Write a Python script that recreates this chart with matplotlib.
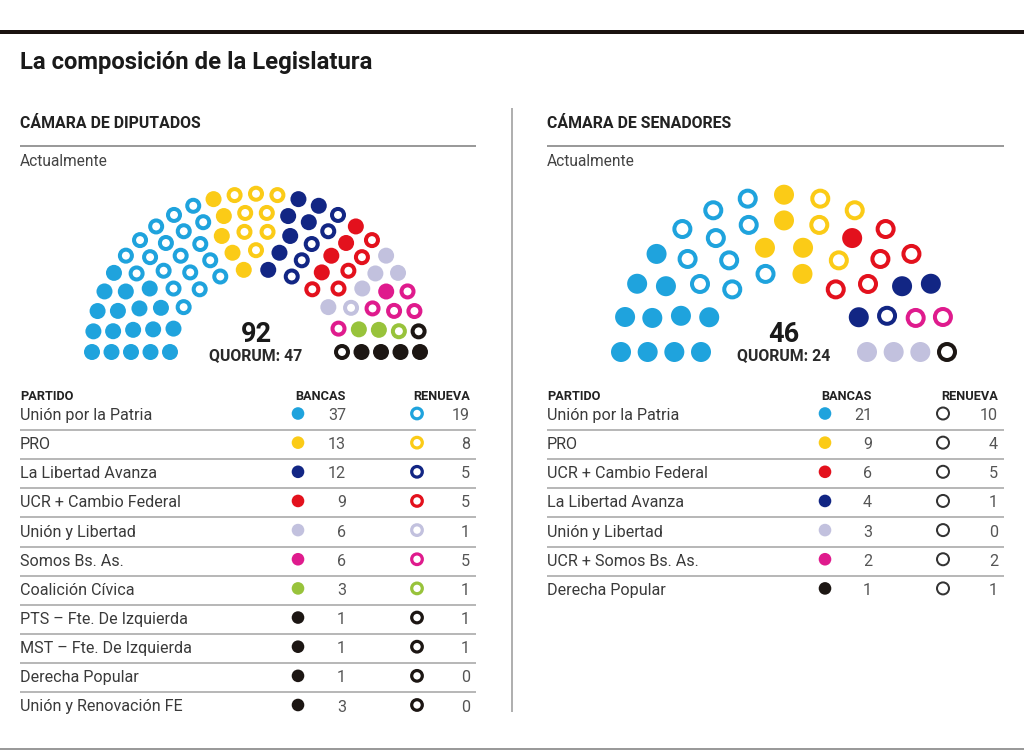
import numpy as np
import matplotlib.pyplot as plt
from matplotlib.patches import Circle

plt.rcParams['font.family'] = ['Roboto', 'DejaVu Sans']

# ---- data ----
dip_partidos = ['Unión por la Patria', 'PRO', 'La Libertad Avanza', 'UCR + Cambio Federal',
                'Unión y Libertad', 'Somos Bs. As.', 'Coalición Cívica',
                'PTS – Fte. De Izquierda', 'MST – Fte. De Izquierda', 'Derecha Popular',
                'Unión y Renovación FE']
dip_bancas = [37, 13, 12, 9, 6, 6, 3, 1, 1, 1, 3]
dip_renueva = [19, 8, 5, 5, 1, 5, 1, 1, 1, 0, 0]
dip_colores = ['#1fa3dd', '#fbcb17', '#122684', '#e3111d', '#c2c1de', '#df1b8d',
               '#98c33b', '#1c1613', '#1c1613', '#1c1613', '#1c1613']
dip_orden = [0, 1, 2, 3, 4, 5, 6, 7, 8, 9, 10]

sen_partidos = ['Unión por la Patria', 'PRO', 'UCR + Cambio Federal', 'La Libertad Avanza',
                'Unión y Libertad', 'UCR + Somos Bs. As.', 'Derecha Popular']
sen_bancas = [21, 9, 6, 4, 3, 2, 1]
sen_renueva = [10, 4, 5, 1, 0, 2, 1]
sen_colores = ['#1fa3dd', '#fbcb17', '#e3111d', '#122684', '#c2c1de', '#df1b8d', '#1c1613']
sen_orden = [0, 1, 2, 3, 5, 4, 6]

# seats per row of each hemicycle (inner -> outer)
dip_filas = [12, 15, 18, 22, 25]
sen_filas = [8, 10, 13, 15]

TXT = '#3a3a3a'
GRIS = '#b8b8b8'
PX = 0.72  # points per pixel at dpi 100
FS = 11.6  # table text size

fig = plt.figure(figsize=(10.24, 7.51), dpi=100)
ax = fig.add_axes([0, 0, 1, 1])
ax.set_xlim(0, 1024)
ax.set_ylim(751, 0)
ax.axis('off')


def asientos(cx, cy, r_in, r_out, filas, ysq=0.965):
    radios = np.linspace(r_in, r_out, len(filas))
    pts = []
    for i, (r, n) in enumerate(zip(radios, filas)):
        for j in range(n):
            th = np.pi * (1 - j / (n - 1))
            pts.append((round(th, 6), i, cx + r * np.cos(th), cy - r * np.sin(th) * ysq))
    pts.sort(key=lambda p: (-p[0], p[1]))
    return [(p[2], p[3]) for p in pts]


def hemiciclo(cx, cy, r_in, r_out, filas, R, bancas, renueva, colores, orden):
    pos = asientos(cx, cy, r_in, r_out, filas)
    marcas = []
    for k in orden:
        marcas += [(colores[k], True)] * (bancas[k] - renueva[k])
        marcas += [(colores[k], False)] * renueva[k]
    for (x, y), (c, lleno) in zip(pos, marcas):
        if lleno:
            ax.add_patch(Circle((x, y), R, facecolor=c, edgecolor='none'))
        else:
            ax.add_patch(Circle((x, y), R - 2, facecolor='white', edgecolor=c, lw=4 * PX))
    total = sum(bancas)
    ax.text(cx, cy - 10.5, str(total), ha='center', va='baseline', fontsize=19.5,
            fontweight='bold', color='#1a1a1a')
    ax.text(cx, cy + 8, f'QUORUM: {total // 2 + 1}', ha='center', va='baseline',
            fontsize=11.4, fontweight='bold', color='#2a2a2a')


def tabla(x0, x1, cols, partidos, bancas, renueva, colores, anillo_color=None):
    dot_x, num_x, ring_x, ren_x = cols
    ax.text(x0, 400, 'PARTIDO', fontsize=9.2, fontweight='bold', color='#222', va='baseline')
    ax.text(num_x, 400, 'BANCAS', fontsize=9.2, fontweight='bold', color='#222',
            ha='right', va='baseline')
    ax.text(ren_x, 400, 'RENUEVA', fontsize=9.2, fontweight='bold', color='#222',
            ha='right', va='baseline')
    paso = 29.15
    for k, nombre in enumerate(partidos):
        yb = 420 + k * paso
        ax.text(x0, yb, nombre, fontsize=FS, color=TXT, va='baseline')
        ax.add_patch(Circle((dot_x, yb - 6.5), 6.3, facecolor=colores[k], edgecolor='none'))
        ax.text(num_x, yb, str(bancas[k]), fontsize=FS, color='#555', ha='right', va='baseline')
        if anillo_color is None:
            ax.add_patch(Circle((ring_x, yb - 6.5), 5.3, facecolor='white',
                                edgecolor=colores[k], lw=3.2 * PX))
        else:
            ax.add_patch(Circle((ring_x, yb - 6.5), 6.0, facecolor='white',
                                edgecolor=anillo_color, lw=2 * PX))
        ax.text(ren_x, yb, str(renueva[k]), fontsize=FS, color='#555', ha='right', va='baseline')
        if k < len(partidos) - 1:
            ax.plot([x0, x1], [yb + 10, yb + 10], color=GRIS, lw=2 * PX, solid_capstyle='butt')


# frame lines
ax.plot([0, 1024], [32, 32], color='#1a1210', lw=4 * PX, solid_capstyle='butt')
ax.plot([0, 1024], [749, 749], color='#9a9a9a', lw=2 * PX, solid_capstyle='butt')
ax.plot([512, 512], [108, 712], color='#b0b0b0', lw=2 * PX, solid_capstyle='butt')

ax.text(20, 69, 'La composición de la Legislatura', fontsize=17.2, fontweight='bold',
        color='#1a1a1a', va='baseline')

for x0, x1, titulo in [(20, 476, 'CÁMARA DE DIPUTADOS'), (547, 1004, 'CÁMARA DE SENADORES')]:
    ax.text(x0, 128, titulo, fontsize=11.4, fontweight='bold', color='#222', va='baseline')
    ax.plot([x0, x1], [146, 146], color='#9a9a9a', lw=2 * PX, solid_capstyle='butt')
    ax.text(x0, 166, 'Actualmente', fontsize=11.2, color='#444', va='baseline')

hemiciclo(256, 352, 86, 164, dip_filas, 8, dip_bancas, dip_renueva, dip_colores, dip_orden)
hemiciclo(784, 352, 83, 163, sen_filas, 10, sen_bancas, sen_renueva, sen_colores, sen_orden)

tabla(20, 476, (298, 346, 417, 470), dip_partidos, dip_bancas, dip_renueva, dip_colores)
tabla(547, 1004, (825, 872, 943, 998), sen_partidos, sen_bancas, sen_renueva, sen_colores,
      anillo_color='#333333')

fig.savefig('out.png', dpi=100)
